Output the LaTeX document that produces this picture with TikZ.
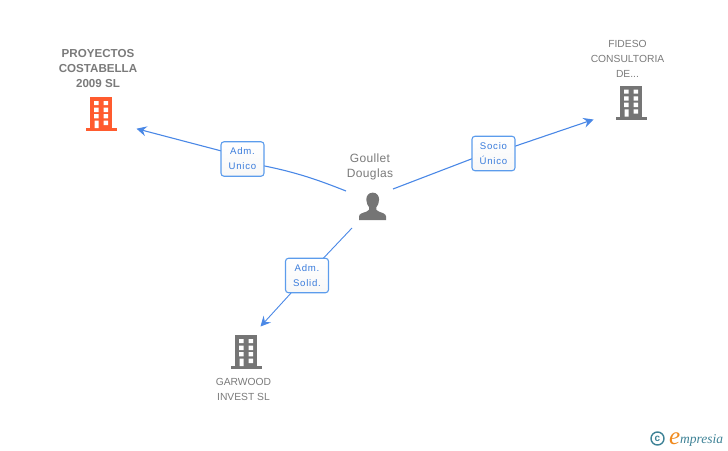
\documentclass[tikz,border=0pt]{standalone}
\usepackage{fontspec}
\setmainfont{Liberation Sans}
\newfontfamily\logofont{Liberation Serif}
\usetikzlibrary{arrows.meta,backgrounds}
\definecolor{edgeblue}{HTML}{4A88E6}
\definecolor{boxblue}{HTML}{5C9CEC}
\definecolor{labelblue}{HTML}{3A7CDC}
\definecolor{icongrey}{HTML}{757575}
\definecolor{textgrey}{HTML}{7A7A7A}
\definecolor{orangeicon}{HTML}{FF5B2E}
\definecolor{logoteal}{HTML}{3E8296}
\definecolor{logoorange}{HTML}{F08A1E}
\tikzset{
  x=1pt,y=-1pt,
  relbox/.style={draw=boxblue,line width=1.1pt,rounded corners=3pt,top color=white,bottom color=white!97!black,
    minimum width=43pt,minimum height=34.5pt,inner sep=0pt,align=center,text=labelblue,
    font=\fontsize{9.6}{15}\selectfont\addfontfeature{LetterSpace=8}},
  edge/.style={draw=edgeblue,line width=1.1pt},
  arrowedge/.style={edge,-{Stealth[length=10pt,width=10pt,inset=3.5pt]}},
  compname/.style={text=textgrey,align=center,inner sep=0pt,font=\fontsize{10.3}{15}\selectfont},
  mainname/.style={text=textgrey,align=center,inner sep=0pt,font=\fontsize{11.6}{15}\selectfont\bfseries},
  personname/.style={text=textgrey,align=center,inner sep=0pt,font=\fontsize{12}{15}\selectfont\addfontfeature{LetterSpace=3}},
  bicon/.style={inner sep=0pt,minimum width=31.5pt,minimum height=34pt},
}
\newcommand{\buildingicon}[4]{% name, dx, dy, colour
  \node[bicon] (#1) at (#2+101.25,#3+114) {};
  \begin{scope}[shift={(#2,#3)}]
    \fill[#4] (90,97.3) rectangle (112.3,128);
    \fill[#4] (85.5,128) rectangle (117,131);
    \fill[white]
      (94,101) rectangle (98.6,105) (103.5,101) rectangle (108,105)
      (94,107.7) rectangle (98.6,112) (103.5,107.7) rectangle (108,112)
      (94,114) rectangle (98.6,118.3) (103.5,114) rectangle (108,118.3)
      (94.5,120.7) rectangle (98.6,128) (103.5,120.7) rectangle (108,125);
  \end{scope}
}
\begin{document}
\begin{tikzpicture}
\useasboundingbox (0,0) rectangle (728,450);
% icons
\buildingicon{proy}{0}{0}{orangeicon}
\buildingicon{fideso}{530}{-11.3}{icongrey}
\buildingicon{garwood}{145}{238}{icongrey}
\node[inner sep=0pt,minimum width=28pt,minimum height=28pt] (goullet) at (372.7,206.5) {};
\fill[icongrey] (372.7,192.6) .. controls (368.5,192.6) and (366.3,196) .. (366.3,199.5)
  .. controls (366.3,203) and (367.6,205.5) .. (369.2,207.5)
  .. controls (369.6,209.5) and (369,210.6) .. (366.5,211.6)
  .. controls (362.5,213) and (359.3,213.5) .. (359,216.5)
  -- (359,220) -- (386,220) -- (386,216.5)
  .. controls (385.7,213.5) and (382.5,213) .. (378.9,211.6)
  .. controls (376.4,210.6) and (375.8,209.5) .. (376.2,207.5)
  .. controls (377.8,205.5) and (379.1,203) .. (379.1,199.5)
  .. controls (379.1,196) and (376.9,192.6) .. (372.7,192.6) -- cycle;
% names
\node[mainname] (proyname) at (98,68.5) {PROYECTOS\\COSTABELLA\\2009 SL};
\node[compname] (fidname) at (627.5,58.5) {FIDESO\\CONSULTORIA\\DE...};
\node[compname] (garname) at (243.5,389) {GARWOOD\\INVEST SL};
\node[personname] (perslabel) at (370,167) {Goullet\\Douglas};
% relation boxes
\node[relbox] (adm) at (242.5,159) {Adm.\\Unico};
\node[relbox] (socio) at (493.5,153.5) {Socio\\Único};
\node[relbox] (solid) at (307,275.5) {Adm.\\Solid.};
% connector ends
\coordinate (s1) at (346,191);
\coordinate (s2) at (393,189);
\coordinate (s3) at (352,228);
\coordinate (e1) at (136.5,128.7);
\coordinate (e2) at (593.5,119.5);
\coordinate (e3) at (260.5,326.5);
\begin{scope}[on background layer]
  \draw[edge] (s1) .. controls (318,180) and (292,170) .. ([yshift=-3pt]adm.center);
  \draw[arrowedge] ([yshift=2.5pt]adm.center) -- (e1);
  \draw[edge] (s2) -- ([yshift=3pt]socio.center);
  \draw[arrowedge] (socio.center) -- (e2);
  \draw[edge,line width=.9pt] (s3) -- (solid.center);
  \draw[arrowedge,line width=.9pt] (solid.center) -- (e3);
\end{scope}
% logo
\node[inner sep=0pt,circle,draw=logoteal,line width=1.4pt,minimum size=13pt,text=logoteal,font=\fontsize{10}{10}\selectfont\bfseries] (copy) at (657.5,438.5) {c};
\node[anchor=base west,inner sep=0pt,text=logoorange,font=\fontsize{25}{25}\logofont\itshape] (loge) at (669,444) {e};
\node[anchor=base west,inner sep=0pt,text=logoteal,font=\fontsize{13.5}{14}\logofont\itshape] (logtext) at (680,443.5) {mpresia};
\end{tikzpicture}
\end{document}
